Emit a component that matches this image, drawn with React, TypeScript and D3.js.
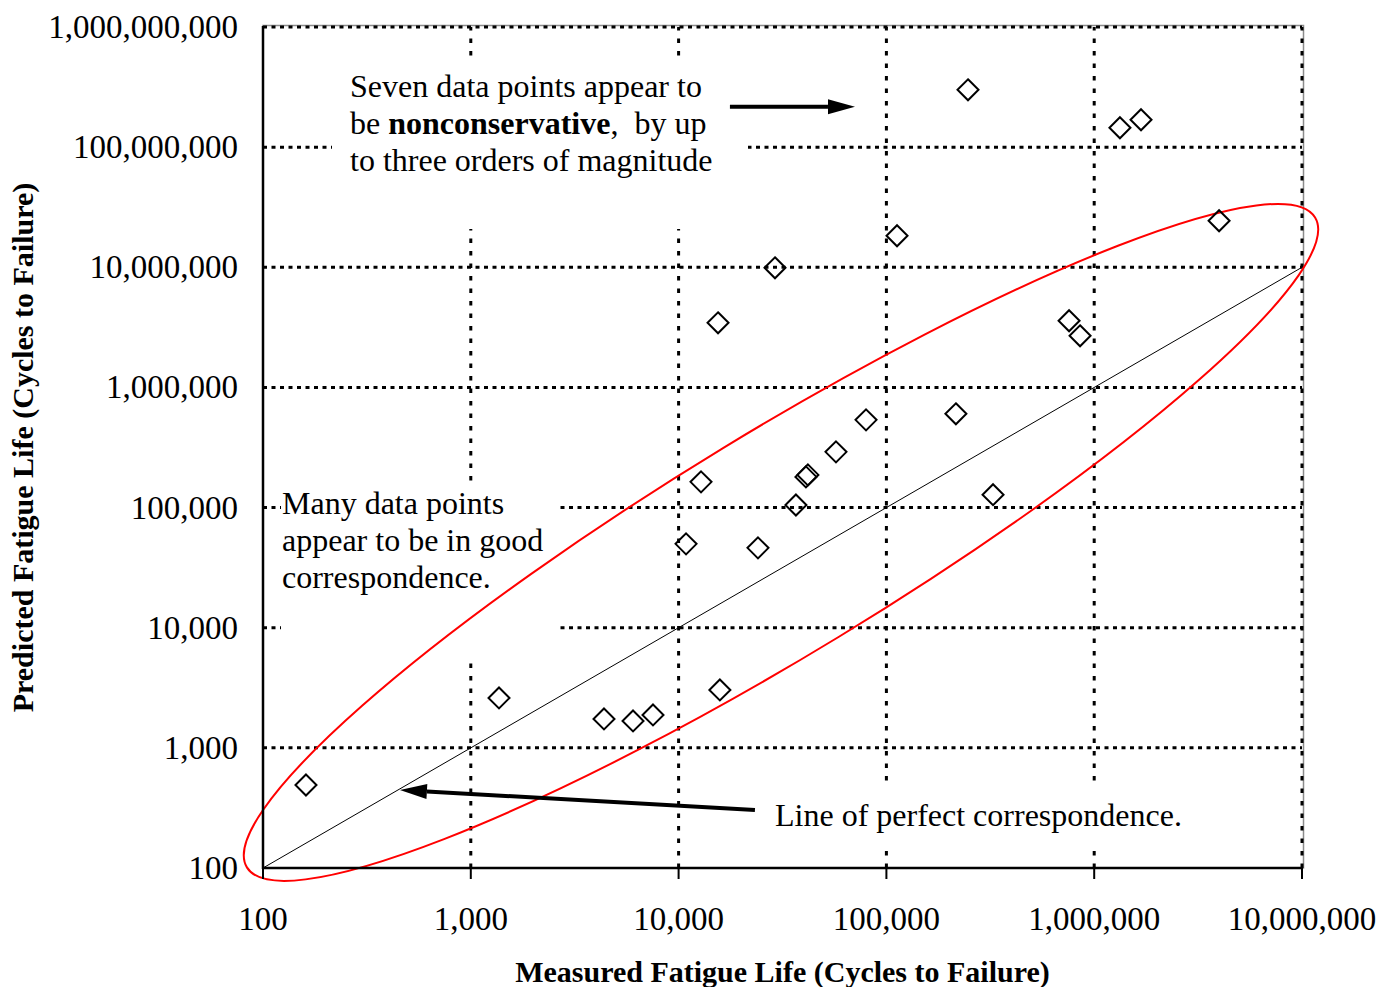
// App.tsx
import React, {useEffect, useRef} from "react";
import * as d3 from "d3";

// measured vs predicted fatigue life (cycles to failure)
const measured = [
    161, 1367, 4375, 6035, 7530, 15800, 10860, 12820, 24100, 15480, 29100, 36700, 41000,
    41900, 57200, 79800, 112500, 216000, 247000, 326000, 757000, 855000, 1330000, 1680000, 3990000,
];
const predicted = [
    491, 2603, 1741, 1675, 1879, 3035, 49900, 163700, 46200, 3450000, 9900000, 105000, 180000,
    187000, 291000, 537000, 18300000, 603000, 300000000, 128000, 3590000, 2690000, 145000000, 169000000, 24400000,
];

const xTicks = [1e2, 1e3, 1e4, 1e5, 1e6, 1e7];
const yTicks = [1e2, 1e3, 1e4, 1e5, 1e6, 1e7, 1e8, 1e9];

// ellipse around the "good correspondence" points, in data units: centre, end of major axis, end of minor axis
const ellipseCenter = [31100, 51300];
const ellipseMajor = [11560000, 26000000];
const ellipseMinor = [58900, 8380];

// arrows (from, to) in data units
const arrowTop = [[17660, 217000000], [70600, 217000000]];
const arrowBottom = [[23300, 304], [456, 446]];

const FONT = "'Liberation Serif', 'Times New Roman', serif";

export default function App() {
    const svgRef = useRef<SVGSVGElement | null>(null);
    const width = 1382;
    const height = 987;

    useEffect(() => {
        if (!svgRef.current) return;
        const svg = d3.select(svgRef.current);
        svg.selectAll("*").remove();

        const margin = {top: 27, right: 80, bottom: 119, left: 263};
        const x = d3.scaleLog().domain([1e2, 1e7]).range([margin.left, width - margin.right]);
        const y = d3.scaleLog().domain([1e2, 1e9]).range([height - margin.bottom, margin.top]);
        const [x0, x1] = x.range();
        const [y0, y1] = y.range(); // y0 bottom, y1 top

        svg.append("rect").attr("width", width).attr("height", height).attr("fill", "#fff");

        // plot frame
        svg.append("rect")
            .attr("x", x0).attr("y", y1 - 1.5)
            .attr("width", x1 - x0 + 1.5).attr("height", y0 - y1 + 1.5)
            .attr("fill", "none").attr("stroke", "#8c8c8c").attr("stroke-width", 1.5);

        // dotted grid: horizontal lines are denser than vertical ones
        svg.append("g")
            .attr("stroke", "#000").attr("stroke-width", 3).attr("stroke-dasharray", "4 4.5")
            .selectAll("line").data(yTicks.slice(1)).enter().append("line")
            .attr("x1", x0).attr("x2", x1)
            .attr("y1", (d) => y(d)).attr("y2", (d) => y(d));
        svg.append("g")
            .attr("stroke", "#000").attr("stroke-width", 3).attr("stroke-dasharray", "4.5 8")
            .selectAll("line").data(xTicks.slice(1)).enter().append("line")
            .attr("x1", (d) => x(d)).attr("x2", (d) => x(d))
            .attr("y1", y0).attr("y2", y1);

        // white boxes behind the annotations
        svg.append("rect").attr("x", 332).attr("y", 61).attr("width", 416).attr("height", 168).attr("fill", "#fff");
        svg.append("rect").attr("x", 281).attr("y", 485).attr("width", 275).attr("height", 176).attr("fill", "#fff");
        svg.append("rect").attr("x", 765).attr("y", 783).attr("width", 425).attr("height", 62).attr("fill", "#fff");

        // line of perfect correspondence
        svg.append("line")
            .attr("x1", x(1e2)).attr("y1", y(1e2))
            .attr("x2", x(1e7)).attr("y2", y(1e7))
            .attr("stroke", "#000").attr("stroke-width", 1);

        // red ellipse
        const cx = x(ellipseCenter[0]), cy = y(ellipseCenter[1]);
        const mx = x(ellipseMajor[0]) - cx, my = y(ellipseMajor[1]) - cy;
        const nx = x(ellipseMinor[0]) - cx, ny = y(ellipseMinor[1]) - cy;
        const angle = (Math.atan2(my, mx) * 180) / Math.PI;
        svg.append("ellipse")
            .attr("cx", cx).attr("cy", cy)
            .attr("rx", Math.hypot(mx, my)).attr("ry", Math.hypot(nx, ny))
            .attr("transform", `rotate(${angle}, ${cx}, ${cy})`)
            .attr("fill", "none").attr("stroke", "#ff0000").attr("stroke-width", 2);

        // diamonds
        const r = 10.5;
        svg.append("g").selectAll("path")
            .data(d3.range(measured.length))
            .enter().append("path")
            .attr("d", (i) => {
                const px = x(measured[i]), py = y(predicted[i]);
                return `M${px},${py - r}L${px + r},${py}L${px},${py + r}L${px - r},${py}Z`;
            })
            .attr("fill", "none").attr("stroke", "#000").attr("stroke-width", 2);

        // axes
        svg.append("line").attr("x1", x0).attr("x2", x0).attr("y1", y1 - 1).attr("y2", y0 + 1)
            .attr("stroke", "#000").attr("stroke-width", 2.5);
        svg.append("line").attr("x1", x0).attr("x2", x1).attr("y1", y0).attr("y2", y0)
            .attr("stroke", "#000").attr("stroke-width", 2.5);
        svg.append("g").selectAll("line").data(xTicks).enter().append("line")
            .attr("x1", (d) => x(d)).attr("x2", (d) => x(d))
            .attr("y1", y0).attr("y2", y0 + 11)
            .attr("stroke", "#000").attr("stroke-width", 2);

        const fmt = d3.format(",");
        svg.append("g").selectAll("text").data(xTicks).enter().append("text")
            .attr("x", (d) => x(d)).attr("y", y0 + 62)
            .attr("text-anchor", "middle")
            .style("font-family", FONT).style("font-size", "33px")
            .text((d) => fmt(d));
        svg.append("g").selectAll("text").data(yTicks).enter().append("text")
            .attr("x", x0 - 25).attr("y", (d) => y(d) + 11)
            .attr("text-anchor", "end")
            .style("font-family", FONT).style("font-size", "33px")
            .text((d) => fmt(d));

        // axis titles
        svg.append("text")
            .attr("x", (x0 + x1) / 2).attr("y", 982)
            .attr("text-anchor", "middle")
            .style("font-family", FONT).style("font-size", "30px").style("font-weight", "bold")
            .text("Measured Fatigue Life (Cycles to Failure)");
        svg.append("text")
            .attr("transform", `translate(33, ${(y0 + y1) / 2}) rotate(-90)`)
            .attr("text-anchor", "middle")
            .style("font-family", FONT).style("font-size", "30px").style("font-weight", "bold")
            .text("Predicted Fatigue Life (Cycles to Failure)");

        // annotations
        const note = (tx: number, ty: number) =>
            svg.append("text").attr("x", tx).attr("y", ty)
                .style("font-family", FONT).style("font-size", "32px").style("white-space", "pre");
        note(350, 97).text("Seven data points appear to");
        const l2 = note(350, 134);
        l2.append("tspan").text("be ");
        l2.append("tspan").style("font-weight", "bold").text("nonconservative");
        l2.append("tspan").text(",  by up");
        note(350, 171).text("to three orders of magnitude");
        note(282, 514).text("Many data points");
        note(282, 551).text("appear to be in good");
        note(282, 588).text("correspondence.");
        note(775, 826).text("Line of perfect correspondence.");

        // arrows
        const drawArrow = (a: number[][]) => {
            const sx = x(a[0][0]), sy = y(a[0][1]);
            const tx = x(a[1][0]), ty = y(a[1][1]);
            const len = Math.hypot(tx - sx, ty - sy);
            const ux = (tx - sx) / len, uy = (ty - sy) / len;
            const head = 27, hw = 7.5;
            const bx = tx - ux * head, by = ty - uy * head;
            svg.append("line").attr("x1", sx).attr("y1", sy).attr("x2", bx).attr("y2", by)
                .attr("stroke", "#000").attr("stroke-width", 4);
            svg.append("path")
                .attr("d", `M${tx},${ty}L${bx - uy * hw},${by + ux * hw}L${bx + uy * hw},${by - ux * hw}Z`)
                .attr("fill", "#000");
        };
        drawArrow(arrowTop);
        drawArrow(arrowBottom);
    }, []);

    return (
        <svg
            ref={svgRef}
            width={width}
            height={height}
            style={{position: "absolute", left: 0, top: 0, display: "block"}}
        />
    );
}
